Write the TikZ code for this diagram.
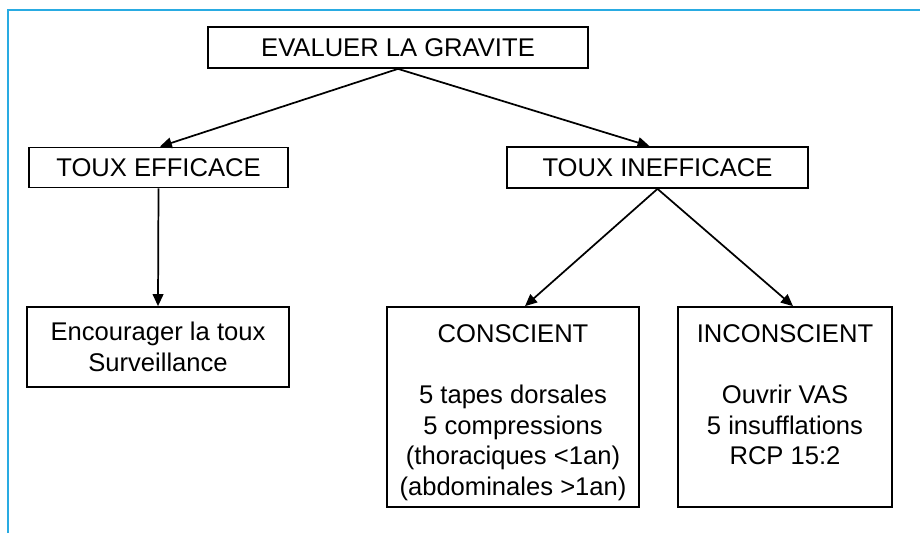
\documentclass[tikz,border=0pt]{standalone}
\usepackage{fontspec}
\setmainfont{Liberation Sans}
\usetikzlibrary{arrows.meta,positioning}

\definecolor{frameblue}{RGB}{41,171,226}

\begin{document}
\begin{tikzpicture}[
    x=0.75pt, y=-0.75pt,
    font=\fontsize{19.2}{23}\selectfont,
    box/.style={rectangle, draw=black, line width=1.3pt, align=center, inner sep=0pt},
    arrow/.style={-{Triangle[length=9pt, width=8pt]}, draw=black, line width=1.3pt}
]
    \useasboundingbox (0,0) rectangle (920,533);

    % Frame lines
    \draw[frameblue, line width=1.3pt] (8,533) -- (8,10) -- (920,10);

    % Node layout
    \node[box, minimum width=285pt, minimum height=30.75pt] (eval) at (398,47.5) {EVALUER LA GRAVITE};
    \node[box, minimum width=194pt, minimum height=30pt] (eff) at (158.5,167.5) {TOUX EFFICACE};
    \node[box, minimum width=225.75pt, minimum height=30.75pt] (ineff) at (657.5,167.5) {TOUX INEFFICACE};
    \node[box, minimum width=196.5pt, minimum height=60pt] (enc) at (158,347) {Encourager la toux\\Surveillance};
    \node[box, minimum width=189pt, minimum height=150pt] (consc) at (513,407) {\rule{0pt}{21.5pt}CONSCIENT\\[23pt]5 tapes dorsales\\5 compressions\\(thoraciques <1an)\\(abdominales >1an)};
    \node[box, minimum width=160.5pt, minimum height=150pt] (incons) at (785,407) {\rule{0pt}{21.5pt}INCONSCIENT\\[23pt]Ouvrir VAS\\5 insufflations\\RCP 15:2\\\phantom{(}};

    % Connections
    \draw[arrow] (eval.south) -- ([xshift=1pt]eff.north);
    \draw[arrow] (eval.south) -- ([xshift=-6pt]ineff.north);
    \draw[arrow] (eff.south) -- (enc.north);
    \draw[arrow] (ineff.south) -- ([xshift=9pt]consc.north);
    \draw[arrow] (ineff.south) -- ([xshift=6pt]incons.north);
\end{tikzpicture}
\end{document}
